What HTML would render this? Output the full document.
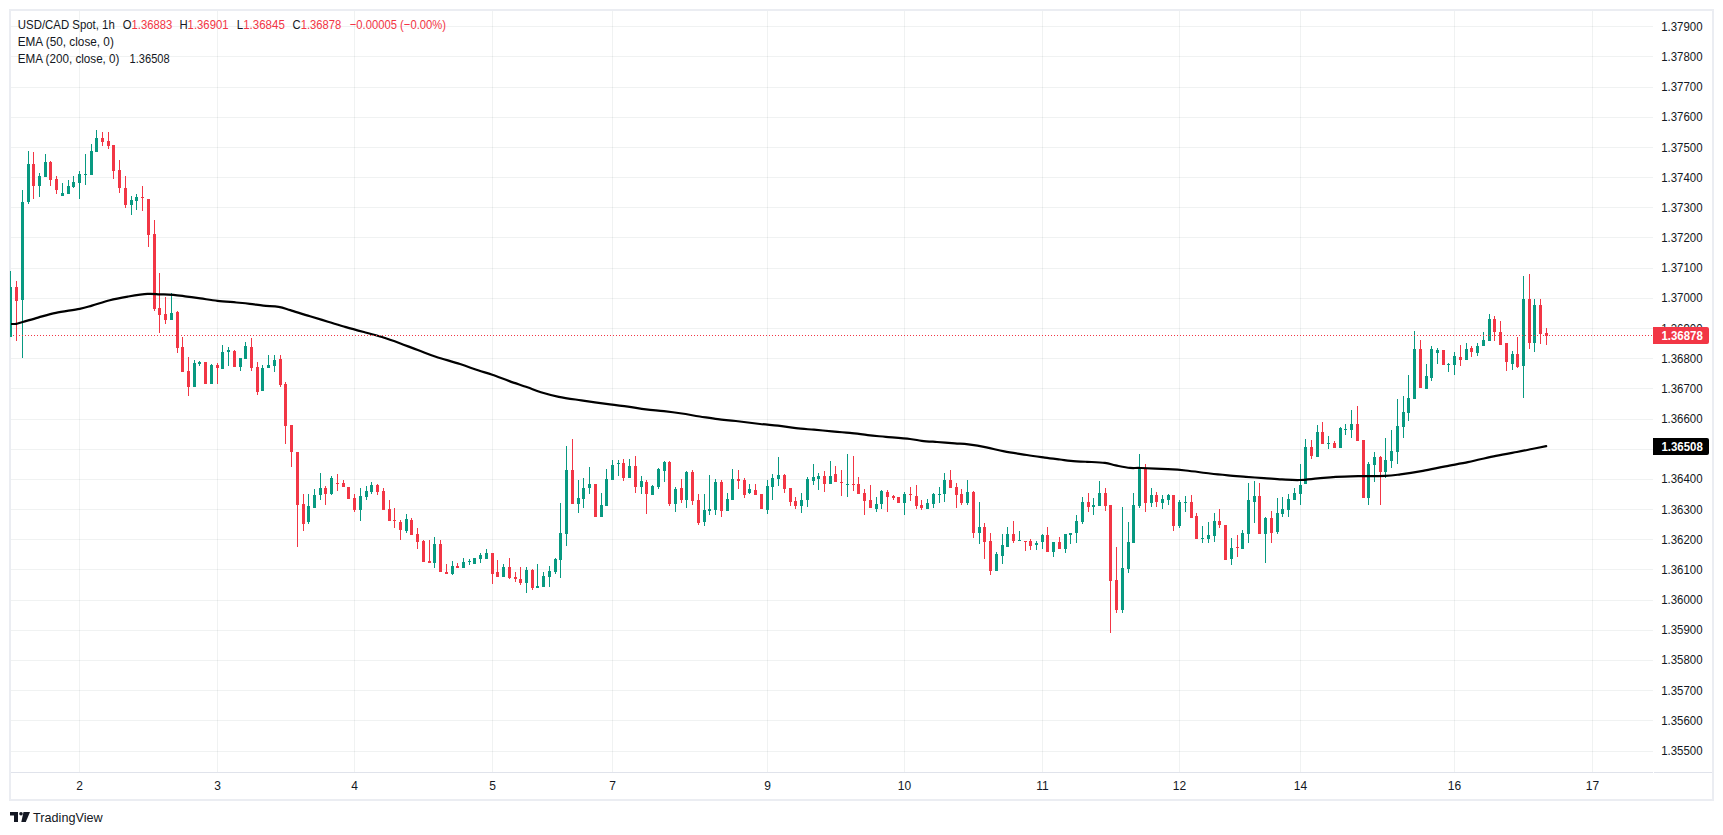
<!DOCTYPE html>
<html><head><meta charset="utf-8"><title>USD/CAD Spot 1h</title><style>
html,body{margin:0;padding:0;background:#fff;width:1723px;height:835px;overflow:hidden}
svg{position:absolute;left:0;top:0;display:block}
text{font-family:"Liberation Sans",sans-serif}
</style></head><body>
<svg width="1723" height="835" viewBox="0 0 1723 835">
<defs><clipPath id="pane"><rect x="11" y="11" width="1642" height="761"/></clipPath><clipPath id="pane2"><rect x="10" y="11" width="1643" height="761"/></clipPath></defs>
<g fill="rgba(30,60,55,0.065)" shape-rendering="crispEdges"><rect x="11" y="26" width="1642" height="1"/><rect x="11" y="56" width="1642" height="1"/><rect x="11" y="87" width="1642" height="1"/><rect x="11" y="117" width="1642" height="1"/><rect x="11" y="147" width="1642" height="1"/><rect x="11" y="177" width="1642" height="1"/><rect x="11" y="207" width="1642" height="1"/><rect x="11" y="237" width="1642" height="1"/><rect x="11" y="268" width="1642" height="1"/><rect x="11" y="298" width="1642" height="1"/><rect x="11" y="328" width="1642" height="1"/><rect x="11" y="358" width="1642" height="1"/><rect x="11" y="388" width="1642" height="1"/><rect x="11" y="419" width="1642" height="1"/><rect x="11" y="449" width="1642" height="1"/><rect x="11" y="479" width="1642" height="1"/><rect x="11" y="509" width="1642" height="1"/><rect x="11" y="539" width="1642" height="1"/><rect x="11" y="569" width="1642" height="1"/><rect x="11" y="600" width="1642" height="1"/><rect x="11" y="630" width="1642" height="1"/><rect x="11" y="660" width="1642" height="1"/><rect x="11" y="690" width="1642" height="1"/><rect x="11" y="720" width="1642" height="1"/><rect x="11" y="751" width="1642" height="1"/><rect x="79" y="11" width="1" height="761"/><rect x="217" y="11" width="1" height="761"/><rect x="354" y="11" width="1" height="761"/><rect x="492" y="11" width="1" height="761"/><rect x="612" y="11" width="1" height="761"/><rect x="767" y="11" width="1" height="761"/><rect x="904" y="11" width="1" height="761"/><rect x="1042" y="11" width="1" height="761"/><rect x="1179" y="11" width="1" height="761"/><rect x="1300" y="11" width="1" height="761"/><rect x="1454" y="11" width="1" height="761"/><rect x="1592" y="11" width="1" height="761"/></g>
<g fill="#ebedf2" shape-rendering="crispEdges"><rect x="9" y="9" width="1705" height="2"/><rect x="9" y="799" width="1705" height="2"/><rect x="9" y="9" width="2" height="792"/><rect x="1712" y="9" width="2" height="792"/></g><g fill="#e0e3eb" shape-rendering="crispEdges"><rect x="11" y="772" width="1642" height="1"/><rect x="1654" y="772" width="58" height="1"/></g>
<g clip-path="url(#pane2)" shape-rendering="crispEdges"><g fill="#089981"><rect x="10" y="271" width="1" height="66"/><rect x="9" y="287" width="3" height="50"/><rect x="22" y="190" width="1" height="168"/><rect x="21" y="202" width="3" height="98"/><rect x="28" y="151" width="1" height="53"/><rect x="27" y="164" width="3" height="38"/><rect x="39" y="173" width="1" height="24"/><rect x="38" y="176" width="3" height="10"/><rect x="45" y="154" width="1" height="23"/><rect x="44" y="162" width="3" height="15"/><rect x="62" y="183" width="1" height="13"/><rect x="61" y="193" width="3" height="3"/><rect x="68" y="180" width="1" height="14"/><rect x="67" y="186" width="3" height="8"/><rect x="73" y="176" width="1" height="12"/><rect x="72" y="182" width="3" height="5"/><rect x="79" y="171" width="1" height="28"/><rect x="78" y="174" width="3" height="9"/><rect x="85" y="154" width="1" height="31"/><rect x="84" y="174" width="3" height="1"/><rect x="91" y="144" width="1" height="31"/><rect x="90" y="151" width="3" height="24"/><rect x="96" y="130" width="1" height="22"/><rect x="95" y="138" width="3" height="14"/><rect x="131" y="196" width="1" height="19"/><rect x="130" y="200" width="3" height="5"/><rect x="136" y="194" width="1" height="16"/><rect x="135" y="197" width="3" height="4"/><rect x="171" y="293" width="1" height="27"/><rect x="170" y="313" width="3" height="7"/><rect x="194" y="360" width="1" height="27"/><rect x="193" y="363" width="3" height="24"/><rect x="199" y="361" width="1" height="5"/><rect x="198" y="362" width="3" height="2"/><rect x="211" y="364" width="1" height="20"/><rect x="210" y="365" width="3" height="19"/><rect x="222" y="345" width="1" height="24"/><rect x="221" y="352" width="3" height="17"/><rect x="228" y="347" width="1" height="19"/><rect x="227" y="350" width="3" height="2"/><rect x="240" y="358" width="1" height="13"/><rect x="239" y="358" width="3" height="9"/><rect x="245" y="342" width="1" height="17"/><rect x="244" y="346" width="3" height="13"/><rect x="262" y="365" width="1" height="26"/><rect x="261" y="368" width="3" height="23"/><rect x="268" y="355" width="1" height="13"/><rect x="267" y="365" width="3" height="3"/><rect x="274" y="355" width="1" height="17"/><rect x="273" y="360" width="3" height="6"/><rect x="308" y="494" width="1" height="30"/><rect x="307" y="506" width="3" height="16"/><rect x="314" y="489" width="1" height="19"/><rect x="313" y="495" width="3" height="13"/><rect x="320" y="473" width="1" height="27"/><rect x="319" y="488" width="3" height="7"/><rect x="331" y="476" width="1" height="19"/><rect x="330" y="478" width="3" height="16"/><rect x="360" y="488" width="1" height="33"/><rect x="359" y="496" width="3" height="14"/><rect x="366" y="486" width="1" height="14"/><rect x="365" y="491" width="3" height="6"/><rect x="371" y="482" width="1" height="12"/><rect x="370" y="485" width="3" height="7"/><rect x="406" y="514" width="1" height="19"/><rect x="405" y="519" width="3" height="12"/><rect x="434" y="537" width="1" height="31"/><rect x="433" y="544" width="3" height="19"/><rect x="452" y="561" width="1" height="14"/><rect x="451" y="566" width="3" height="8"/><rect x="463" y="558" width="1" height="10"/><rect x="462" y="562" width="3" height="6"/><rect x="469" y="559" width="1" height="6"/><rect x="468" y="561" width="3" height="1"/><rect x="474" y="558" width="1" height="6"/><rect x="473" y="558" width="3" height="6"/><rect x="480" y="553" width="1" height="10"/><rect x="479" y="555" width="3" height="4"/><rect x="486" y="549" width="1" height="10"/><rect x="485" y="553" width="3" height="6"/><rect x="503" y="564" width="1" height="13"/><rect x="502" y="567" width="3" height="10"/><rect x="526" y="567" width="1" height="26"/><rect x="525" y="570" width="3" height="13"/><rect x="537" y="564" width="1" height="24"/><rect x="536" y="586" width="3" height="2"/><rect x="543" y="572" width="1" height="15"/><rect x="542" y="576" width="3" height="11"/><rect x="549" y="566" width="1" height="21"/><rect x="548" y="571" width="3" height="6"/><rect x="555" y="558" width="1" height="16"/><rect x="554" y="559" width="3" height="13"/><rect x="560" y="503" width="1" height="75"/><rect x="559" y="533" width="3" height="27"/><rect x="566" y="446" width="1" height="100"/><rect x="565" y="470" width="3" height="64"/><rect x="578" y="480" width="1" height="33"/><rect x="577" y="498" width="3" height="6"/><rect x="583" y="478" width="1" height="30"/><rect x="582" y="488" width="3" height="11"/><rect x="589" y="467" width="1" height="27"/><rect x="588" y="484" width="3" height="4"/><rect x="601" y="493" width="1" height="24"/><rect x="600" y="505" width="3" height="12"/><rect x="606" y="469" width="1" height="37"/><rect x="605" y="479" width="3" height="27"/><rect x="612" y="460" width="1" height="20"/><rect x="611" y="465" width="3" height="15"/><rect x="618" y="460" width="1" height="16"/><rect x="617" y="463" width="3" height="1"/><rect x="629" y="459" width="1" height="19"/><rect x="628" y="466" width="3" height="12"/><rect x="641" y="476" width="1" height="18"/><rect x="640" y="481" width="3" height="6"/><rect x="652" y="485" width="1" height="10"/><rect x="651" y="486" width="3" height="9"/><rect x="658" y="468" width="1" height="21"/><rect x="657" y="469" width="3" height="18"/><rect x="664" y="461" width="1" height="21"/><rect x="663" y="462" width="3" height="9"/><rect x="675" y="487" width="1" height="25"/><rect x="674" y="489" width="3" height="15"/><rect x="686" y="471" width="1" height="37"/><rect x="685" y="472" width="3" height="28"/><rect x="704" y="494" width="1" height="32"/><rect x="703" y="510" width="3" height="12"/><rect x="709" y="475" width="1" height="40"/><rect x="708" y="509" width="3" height="2"/><rect x="715" y="479" width="1" height="36"/><rect x="714" y="482" width="3" height="28"/><rect x="727" y="493" width="1" height="18"/><rect x="726" y="499" width="3" height="12"/><rect x="732" y="469" width="1" height="31"/><rect x="731" y="479" width="3" height="21"/><rect x="749" y="484" width="1" height="10"/><rect x="748" y="489" width="3" height="4"/><rect x="767" y="480" width="1" height="34"/><rect x="766" y="486" width="3" height="24"/><rect x="772" y="474" width="1" height="26"/><rect x="771" y="478" width="3" height="9"/><rect x="778" y="457" width="1" height="29"/><rect x="777" y="475" width="3" height="4"/><rect x="801" y="493" width="1" height="20"/><rect x="800" y="500" width="3" height="6"/><rect x="807" y="477" width="1" height="30"/><rect x="806" y="479" width="3" height="21"/><rect x="813" y="464" width="1" height="21"/><rect x="812" y="477" width="3" height="4"/><rect x="818" y="473" width="1" height="17"/><rect x="817" y="476" width="3" height="3"/><rect x="830" y="461" width="1" height="23"/><rect x="829" y="476" width="3" height="8"/><rect x="847" y="454" width="1" height="43"/><rect x="846" y="484" width="3" height="1"/><rect x="876" y="497" width="1" height="15"/><rect x="875" y="504" width="3" height="5"/><rect x="881" y="490" width="1" height="19"/><rect x="880" y="491" width="3" height="13"/><rect x="904" y="492" width="1" height="23"/><rect x="903" y="494" width="3" height="9"/><rect x="927" y="499" width="1" height="10"/><rect x="926" y="503" width="3" height="6"/><rect x="933" y="493" width="1" height="15"/><rect x="932" y="494" width="3" height="10"/><rect x="939" y="487" width="1" height="16"/><rect x="938" y="494" width="3" height="1"/><rect x="944" y="473" width="1" height="29"/><rect x="943" y="480" width="3" height="14"/><rect x="967" y="480" width="1" height="25"/><rect x="966" y="492" width="3" height="11"/><rect x="979" y="502" width="1" height="42"/><rect x="978" y="527" width="3" height="6"/><rect x="996" y="552" width="1" height="19"/><rect x="995" y="554" width="3" height="17"/><rect x="1002" y="534" width="1" height="30"/><rect x="1001" y="545" width="3" height="11"/><rect x="1007" y="527" width="1" height="20"/><rect x="1006" y="534" width="3" height="13"/><rect x="1019" y="531" width="1" height="10"/><rect x="1018" y="540" width="3" height="1"/><rect x="1036" y="541" width="1" height="9"/><rect x="1035" y="543" width="3" height="2"/><rect x="1042" y="534" width="1" height="15"/><rect x="1041" y="535" width="3" height="7"/><rect x="1053" y="542" width="1" height="15"/><rect x="1052" y="542" width="3" height="10"/><rect x="1065" y="534" width="1" height="19"/><rect x="1064" y="534" width="3" height="15"/><rect x="1070" y="533" width="1" height="11"/><rect x="1069" y="533" width="3" height="2"/><rect x="1076" y="515" width="1" height="28"/><rect x="1075" y="521" width="3" height="12"/><rect x="1082" y="497" width="1" height="27"/><rect x="1081" y="502" width="3" height="20"/><rect x="1093" y="498" width="1" height="17"/><rect x="1092" y="505" width="3" height="2"/><rect x="1099" y="481" width="1" height="25"/><rect x="1098" y="493" width="3" height="13"/><rect x="1122" y="507" width="1" height="106"/><rect x="1121" y="568" width="3" height="42"/><rect x="1128" y="522" width="1" height="51"/><rect x="1127" y="542" width="3" height="27"/><rect x="1133" y="493" width="1" height="50"/><rect x="1132" y="505" width="3" height="38"/><rect x="1139" y="454" width="1" height="54"/><rect x="1138" y="469" width="3" height="37"/><rect x="1151" y="488" width="1" height="19"/><rect x="1150" y="495" width="3" height="8"/><rect x="1162" y="495" width="1" height="14"/><rect x="1161" y="499" width="3" height="4"/><rect x="1168" y="494" width="1" height="11"/><rect x="1167" y="495" width="3" height="5"/><rect x="1179" y="500" width="1" height="28"/><rect x="1178" y="502" width="3" height="24"/><rect x="1185" y="496" width="1" height="16"/><rect x="1184" y="502" width="3" height="1"/><rect x="1202" y="526" width="1" height="17"/><rect x="1201" y="538" width="3" height="1"/><rect x="1208" y="522" width="1" height="21"/><rect x="1207" y="535" width="3" height="4"/><rect x="1214" y="513" width="1" height="29"/><rect x="1213" y="521" width="3" height="15"/><rect x="1231" y="538" width="1" height="27"/><rect x="1230" y="548" width="3" height="11"/><rect x="1242" y="530" width="1" height="19"/><rect x="1241" y="533" width="3" height="16"/><rect x="1248" y="483" width="1" height="60"/><rect x="1247" y="500" width="3" height="34"/><rect x="1254" y="481" width="1" height="42"/><rect x="1253" y="496" width="3" height="6"/><rect x="1265" y="517" width="1" height="46"/><rect x="1264" y="518" width="3" height="16"/><rect x="1277" y="498" width="1" height="36"/><rect x="1276" y="513" width="3" height="19"/><rect x="1282" y="497" width="1" height="20"/><rect x="1281" y="509" width="3" height="5"/><rect x="1288" y="494" width="1" height="23"/><rect x="1287" y="499" width="3" height="11"/><rect x="1294" y="488" width="1" height="12"/><rect x="1293" y="493" width="3" height="7"/><rect x="1300" y="464" width="1" height="41"/><rect x="1299" y="485" width="3" height="9"/><rect x="1305" y="439" width="1" height="45"/><rect x="1304" y="447" width="3" height="37"/><rect x="1317" y="425" width="1" height="32"/><rect x="1316" y="432" width="3" height="25"/><rect x="1328" y="436" width="1" height="13"/><rect x="1327" y="443" width="3" height="1"/><rect x="1340" y="427" width="1" height="21"/><rect x="1339" y="428" width="3" height="20"/><rect x="1345" y="424" width="1" height="11"/><rect x="1344" y="429" width="3" height="1"/><rect x="1351" y="410" width="1" height="28"/><rect x="1350" y="424" width="3" height="6"/><rect x="1368" y="462" width="1" height="43"/><rect x="1367" y="464" width="3" height="34"/><rect x="1374" y="452" width="1" height="30"/><rect x="1373" y="457" width="3" height="8"/><rect x="1385" y="438" width="1" height="40"/><rect x="1384" y="460" width="3" height="12"/><rect x="1391" y="430" width="1" height="38"/><rect x="1390" y="451" width="3" height="10"/><rect x="1397" y="399" width="1" height="65"/><rect x="1396" y="426" width="3" height="26"/><rect x="1403" y="396" width="1" height="42"/><rect x="1402" y="412" width="3" height="15"/><rect x="1408" y="375" width="1" height="46"/><rect x="1407" y="398" width="3" height="15"/><rect x="1414" y="331" width="1" height="68"/><rect x="1413" y="349" width="3" height="50"/><rect x="1426" y="364" width="1" height="25"/><rect x="1425" y="376" width="3" height="13"/><rect x="1431" y="346" width="1" height="35"/><rect x="1430" y="349" width="3" height="29"/><rect x="1437" y="348" width="1" height="16"/><rect x="1436" y="350" width="3" height="3"/><rect x="1448" y="363" width="1" height="9"/><rect x="1447" y="364" width="3" height="1"/><rect x="1454" y="352" width="1" height="23"/><rect x="1453" y="356" width="3" height="9"/><rect x="1466" y="343" width="1" height="17"/><rect x="1465" y="349" width="3" height="11"/><rect x="1477" y="343" width="1" height="13"/><rect x="1476" y="346" width="3" height="7"/><rect x="1483" y="332" width="1" height="14"/><rect x="1482" y="340" width="3" height="6"/><rect x="1489" y="314" width="1" height="27"/><rect x="1488" y="319" width="3" height="22"/><rect x="1512" y="351" width="1" height="19"/><rect x="1511" y="354" width="3" height="10"/><rect x="1523" y="276" width="1" height="122"/><rect x="1522" y="299" width="3" height="67"/><rect x="1534" y="299" width="1" height="53"/><rect x="1533" y="305" width="3" height="38"/></g><g fill="#f23645"><rect x="16" y="281" width="1" height="60"/><rect x="15" y="287" width="3" height="14"/><rect x="33" y="152" width="1" height="47"/><rect x="32" y="164" width="3" height="22"/><rect x="50" y="161" width="1" height="25"/><rect x="49" y="162" width="3" height="18"/><rect x="56" y="176" width="1" height="18"/><rect x="55" y="179" width="3" height="11"/><rect x="102" y="132" width="1" height="14"/><rect x="101" y="138" width="3" height="4"/><rect x="108" y="132" width="1" height="17"/><rect x="107" y="141" width="3" height="5"/><rect x="113" y="145" width="1" height="34"/><rect x="112" y="145" width="3" height="26"/><rect x="119" y="160" width="1" height="33"/><rect x="118" y="170" width="3" height="18"/><rect x="125" y="176" width="1" height="32"/><rect x="124" y="188" width="3" height="17"/><rect x="142" y="186" width="1" height="25"/><rect x="141" y="197" width="3" height="1"/><rect x="148" y="199" width="1" height="48"/><rect x="147" y="199" width="3" height="36"/><rect x="154" y="220" width="1" height="91"/><rect x="153" y="234" width="3" height="75"/><rect x="159" y="273" width="1" height="60"/><rect x="158" y="308" width="3" height="7"/><rect x="165" y="297" width="1" height="27"/><rect x="164" y="314" width="3" height="6"/><rect x="177" y="311" width="1" height="42"/><rect x="176" y="312" width="3" height="36"/><rect x="182" y="337" width="1" height="35"/><rect x="181" y="347" width="3" height="25"/><rect x="188" y="357" width="1" height="39"/><rect x="187" y="371" width="3" height="16"/><rect x="205" y="362" width="1" height="22"/><rect x="204" y="362" width="3" height="22"/><rect x="217" y="363" width="1" height="21"/><rect x="216" y="365" width="3" height="3"/><rect x="234" y="350" width="1" height="17"/><rect x="233" y="351" width="3" height="16"/><rect x="251" y="338" width="1" height="33"/><rect x="250" y="347" width="3" height="21"/><rect x="257" y="362" width="1" height="33"/><rect x="256" y="367" width="3" height="25"/><rect x="280" y="355" width="1" height="32"/><rect x="279" y="359" width="3" height="26"/><rect x="285" y="382" width="1" height="62"/><rect x="284" y="384" width="3" height="42"/><rect x="291" y="425" width="1" height="42"/><rect x="290" y="425" width="3" height="27"/><rect x="297" y="452" width="1" height="95"/><rect x="296" y="452" width="3" height="53"/><rect x="303" y="494" width="1" height="37"/><rect x="302" y="504" width="3" height="20"/><rect x="325" y="486" width="1" height="19"/><rect x="324" y="488" width="3" height="6"/><rect x="337" y="474" width="1" height="17"/><rect x="336" y="483" width="3" height="1"/><rect x="343" y="480" width="1" height="7"/><rect x="342" y="483" width="3" height="4"/><rect x="348" y="487" width="1" height="12"/><rect x="347" y="487" width="3" height="12"/><rect x="354" y="494" width="1" height="18"/><rect x="353" y="498" width="3" height="12"/><rect x="377" y="484" width="1" height="11"/><rect x="376" y="485" width="3" height="7"/><rect x="383" y="488" width="1" height="22"/><rect x="382" y="491" width="3" height="19"/><rect x="389" y="500" width="1" height="21"/><rect x="388" y="509" width="3" height="12"/><rect x="394" y="508" width="1" height="20"/><rect x="393" y="520" width="3" height="1"/><rect x="400" y="520" width="1" height="20"/><rect x="399" y="522" width="3" height="8"/><rect x="411" y="518" width="1" height="17"/><rect x="410" y="520" width="3" height="15"/><rect x="417" y="528" width="1" height="21"/><rect x="416" y="534" width="3" height="8"/><rect x="423" y="540" width="1" height="22"/><rect x="422" y="541" width="3" height="21"/><rect x="429" y="540" width="1" height="23"/><rect x="428" y="561" width="3" height="2"/><rect x="440" y="540" width="1" height="32"/><rect x="439" y="544" width="3" height="28"/><rect x="446" y="564" width="1" height="10"/><rect x="445" y="572" width="3" height="2"/><rect x="457" y="563" width="1" height="5"/><rect x="456" y="566" width="3" height="2"/><rect x="492" y="553" width="1" height="31"/><rect x="491" y="553" width="3" height="21"/><rect x="497" y="560" width="1" height="17"/><rect x="496" y="572" width="3" height="5"/><rect x="509" y="558" width="1" height="21"/><rect x="508" y="567" width="3" height="11"/><rect x="515" y="572" width="1" height="10"/><rect x="514" y="577" width="3" height="2"/><rect x="520" y="567" width="1" height="18"/><rect x="519" y="579" width="3" height="4"/><rect x="532" y="569" width="1" height="21"/><rect x="531" y="570" width="3" height="18"/><rect x="572" y="439" width="1" height="65"/><rect x="571" y="470" width="3" height="34"/><rect x="595" y="484" width="1" height="33"/><rect x="594" y="484" width="3" height="33"/><rect x="623" y="459" width="1" height="22"/><rect x="622" y="463" width="3" height="15"/><rect x="635" y="456" width="1" height="37"/><rect x="634" y="466" width="3" height="21"/><rect x="646" y="480" width="1" height="34"/><rect x="645" y="482" width="3" height="12"/><rect x="669" y="461" width="1" height="45"/><rect x="668" y="462" width="3" height="42"/><rect x="681" y="479" width="1" height="24"/><rect x="680" y="488" width="3" height="12"/><rect x="692" y="470" width="1" height="35"/><rect x="691" y="472" width="3" height="29"/><rect x="698" y="494" width="1" height="31"/><rect x="697" y="500" width="3" height="23"/><rect x="721" y="480" width="1" height="37"/><rect x="720" y="482" width="3" height="29"/><rect x="738" y="470" width="1" height="19"/><rect x="737" y="479" width="3" height="2"/><rect x="744" y="478" width="1" height="20"/><rect x="743" y="480" width="3" height="15"/><rect x="755" y="484" width="1" height="11"/><rect x="754" y="490" width="3" height="5"/><rect x="761" y="494" width="1" height="15"/><rect x="760" y="494" width="3" height="15"/><rect x="784" y="474" width="1" height="19"/><rect x="783" y="475" width="3" height="14"/><rect x="790" y="488" width="1" height="18"/><rect x="789" y="488" width="3" height="14"/><rect x="795" y="497" width="1" height="12"/><rect x="794" y="501" width="3" height="5"/><rect x="824" y="471" width="1" height="21"/><rect x="823" y="476" width="3" height="8"/><rect x="835" y="466" width="1" height="16"/><rect x="834" y="474" width="3" height="8"/><rect x="841" y="470" width="1" height="26"/><rect x="840" y="482" width="3" height="1"/><rect x="853" y="456" width="1" height="35"/><rect x="852" y="484" width="3" height="1"/><rect x="858" y="477" width="1" height="17"/><rect x="857" y="484" width="3" height="10"/><rect x="864" y="489" width="1" height="26"/><rect x="863" y="493" width="3" height="8"/><rect x="870" y="485" width="1" height="23"/><rect x="869" y="500" width="3" height="8"/><rect x="887" y="490" width="1" height="22"/><rect x="886" y="492" width="3" height="5"/><rect x="893" y="495" width="1" height="5"/><rect x="892" y="496" width="3" height="2"/><rect x="898" y="497" width="1" height="6"/><rect x="897" y="497" width="3" height="6"/><rect x="910" y="487" width="1" height="14"/><rect x="909" y="494" width="3" height="1"/><rect x="916" y="485" width="1" height="24"/><rect x="915" y="496" width="3" height="10"/><rect x="921" y="500" width="1" height="10"/><rect x="920" y="505" width="3" height="3"/><rect x="950" y="470" width="1" height="18"/><rect x="949" y="480" width="3" height="8"/><rect x="956" y="483" width="1" height="25"/><rect x="955" y="487" width="3" height="8"/><rect x="961" y="489" width="1" height="16"/><rect x="960" y="494" width="3" height="9"/><rect x="973" y="491" width="1" height="47"/><rect x="972" y="492" width="3" height="41"/><rect x="984" y="523" width="1" height="36"/><rect x="983" y="527" width="3" height="15"/><rect x="990" y="533" width="1" height="42"/><rect x="989" y="541" width="3" height="30"/><rect x="1013" y="521" width="1" height="22"/><rect x="1012" y="534" width="3" height="7"/><rect x="1025" y="541" width="1" height="10"/><rect x="1024" y="541" width="3" height="1"/><rect x="1030" y="539" width="1" height="11"/><rect x="1029" y="541" width="3" height="5"/><rect x="1047" y="527" width="1" height="25"/><rect x="1046" y="535" width="3" height="17"/><rect x="1059" y="537" width="1" height="12"/><rect x="1058" y="542" width="3" height="7"/><rect x="1088" y="493" width="1" height="19"/><rect x="1087" y="502" width="3" height="5"/><rect x="1105" y="488" width="1" height="23"/><rect x="1104" y="493" width="3" height="13"/><rect x="1110" y="505" width="1" height="128"/><rect x="1109" y="505" width="3" height="76"/><rect x="1116" y="547" width="1" height="66"/><rect x="1115" y="580" width="3" height="30"/><rect x="1145" y="464" width="1" height="48"/><rect x="1144" y="469" width="3" height="34"/><rect x="1156" y="492" width="1" height="15"/><rect x="1155" y="495" width="3" height="7"/><rect x="1173" y="495" width="1" height="36"/><rect x="1172" y="495" width="3" height="31"/><rect x="1191" y="495" width="1" height="23"/><rect x="1190" y="502" width="3" height="16"/><rect x="1196" y="513" width="1" height="26"/><rect x="1195" y="516" width="3" height="23"/><rect x="1219" y="509" width="1" height="19"/><rect x="1218" y="521" width="3" height="4"/><rect x="1225" y="525" width="1" height="35"/><rect x="1224" y="525" width="3" height="35"/><rect x="1237" y="535" width="1" height="22"/><rect x="1236" y="547" width="3" height="1"/><rect x="1259" y="483" width="1" height="51"/><rect x="1258" y="496" width="3" height="38"/><rect x="1271" y="511" width="1" height="32"/><rect x="1270" y="518" width="3" height="15"/><rect x="1311" y="440" width="1" height="19"/><rect x="1310" y="447" width="3" height="9"/><rect x="1322" y="422" width="1" height="22"/><rect x="1321" y="432" width="3" height="12"/><rect x="1334" y="441" width="1" height="7"/><rect x="1333" y="443" width="3" height="5"/><rect x="1357" y="406" width="1" height="35"/><rect x="1356" y="424" width="3" height="17"/><rect x="1363" y="440" width="1" height="58"/><rect x="1362" y="440" width="3" height="58"/><rect x="1380" y="456" width="1" height="49"/><rect x="1379" y="457" width="3" height="15"/><rect x="1420" y="340" width="1" height="48"/><rect x="1419" y="349" width="3" height="39"/><rect x="1443" y="350" width="1" height="15"/><rect x="1442" y="350" width="3" height="15"/><rect x="1460" y="345" width="1" height="21"/><rect x="1459" y="357" width="3" height="3"/><rect x="1471" y="346" width="1" height="11"/><rect x="1470" y="348" width="3" height="4"/><rect x="1494" y="316" width="1" height="25"/><rect x="1493" y="319" width="3" height="13"/><rect x="1500" y="321" width="1" height="24"/><rect x="1499" y="332" width="3" height="13"/><rect x="1506" y="343" width="1" height="28"/><rect x="1505" y="343" width="3" height="19"/><rect x="1517" y="337" width="1" height="31"/><rect x="1516" y="354" width="3" height="13"/><rect x="1529" y="274" width="1" height="75"/><rect x="1528" y="299" width="3" height="44"/><rect x="1540" y="299" width="1" height="45"/><rect x="1539" y="305" width="3" height="29"/><rect x="1546" y="328" width="1" height="17"/><rect x="1545" y="333" width="3" height="3"/></g></g>
<path clip-path="url(#pane)" d="M11.0 324.0 C11.9 324.0 14.4 324.1 16.4 323.8 C18.3 323.5 19.1 323.0 22.7 322.0 C26.3 321.0 32.5 319.1 38.0 317.6 C43.5 316.1 48.9 314.2 55.9 312.8 C62.9 311.4 73.7 310.1 79.7 308.9 C85.7 307.7 86.9 307.1 91.9 305.6 C96.9 304.2 103.8 301.7 109.8 300.2 C115.8 298.7 121.5 297.7 127.8 296.6 C134.1 295.6 142.2 294.3 147.6 293.9 C153.0 293.5 155.7 294.2 160.0 294.4 C164.3 294.5 169.0 294.4 173.5 294.8 C178.0 295.2 182.5 296.0 187.0 296.6 C191.5 297.2 195.3 297.7 200.4 298.4 C205.5 299.1 211.5 300.1 217.5 300.8 C223.5 301.5 231.0 302.0 236.4 302.5 C241.8 303.0 245.3 303.3 249.8 303.8 C254.3 304.3 258.5 305.1 263.3 305.6 C268.1 306.1 274.1 306.1 278.6 306.8 C283.1 307.6 285.1 308.5 290.3 310.1 C295.5 311.7 303.7 314.4 310.0 316.3 C316.3 318.2 322.0 319.9 328.0 321.7 C334.0 323.5 339.9 325.4 345.9 327.1 C351.9 328.8 357.9 330.4 363.9 332.0 C369.9 333.6 375.9 335.1 381.9 337.0 C387.9 338.9 393.8 341.0 399.8 343.2 C405.8 345.4 411.8 347.8 417.8 350.0 C423.8 352.2 428.8 354.4 435.8 356.7 C442.8 359.0 453.0 361.7 460.0 364.0 C467.0 366.3 472.6 368.5 478.0 370.3 C483.4 372.1 487.1 373.0 492.3 374.8 C497.5 376.6 503.5 379.0 509.4 381.1 C515.2 383.2 522.1 385.4 527.4 387.3 C532.6 389.2 535.7 390.7 540.9 392.3 C546.1 393.9 552.1 395.5 558.8 396.8 C565.5 398.1 572.8 399.1 581.3 400.4 C589.8 401.7 602.2 403.4 610.0 404.4 C617.8 405.4 622.0 405.8 628.0 406.6 C634.0 407.4 639.9 408.6 645.9 409.3 C651.9 410.1 657.9 410.4 663.9 411.1 C669.9 411.8 675.9 412.6 681.9 413.5 C687.9 414.4 693.8 415.6 699.8 416.5 C705.8 417.4 711.8 418.4 717.8 419.2 C723.8 419.9 728.8 420.2 735.8 421.0 C742.8 421.8 753.0 423.2 760.0 424.0 C767.0 424.8 772.0 425.0 778.0 425.7 C784.0 426.4 789.9 427.5 795.9 428.2 C801.9 428.9 807.9 429.2 813.9 429.7 C819.9 430.2 825.9 430.8 831.9 431.3 C837.9 431.8 843.8 432.3 849.8 432.9 C855.8 433.5 861.8 434.4 867.8 435.1 C873.8 435.8 878.8 436.2 885.8 436.9 C892.8 437.5 904.0 438.4 910.0 439.0 C916.0 439.6 917.2 440.3 921.7 440.8 C926.2 441.3 931.5 441.6 937.0 442.0 C942.5 442.4 949.7 443.0 954.9 443.4 C960.1 443.8 963.1 443.7 968.4 444.4 C973.6 445.1 980.4 446.2 986.4 447.4 C992.4 448.6 997.6 450.1 1004.3 451.4 C1011.0 452.7 1020.0 453.9 1026.8 455.0 C1033.5 456.1 1039.3 456.9 1044.8 457.7 C1050.3 458.4 1055.7 459.0 1060.0 459.5 C1064.3 460.0 1066.3 460.4 1070.8 460.8 C1075.3 461.2 1081.3 461.5 1087.0 461.8 C1092.7 462.1 1100.1 462.3 1104.9 462.9 C1109.7 463.5 1111.5 464.6 1115.7 465.4 C1119.9 466.2 1125.9 467.5 1130.1 467.9 C1134.3 468.3 1134.6 467.8 1140.9 468.0 C1147.2 468.2 1160.3 468.8 1167.8 469.2 C1175.3 469.6 1178.8 469.8 1185.8 470.5 C1192.8 471.2 1203.0 472.7 1210.0 473.5 C1217.0 474.3 1222.0 474.8 1228.0 475.4 C1234.0 476.0 1239.9 476.4 1245.9 476.9 C1251.9 477.3 1257.9 477.7 1263.9 478.1 C1269.9 478.5 1275.9 479.1 1281.9 479.4 C1287.9 479.7 1293.8 480.2 1299.8 480.0 C1305.8 479.8 1311.8 478.9 1317.8 478.4 C1323.8 477.9 1328.8 477.3 1335.8 476.9 C1342.8 476.5 1351.8 476.3 1360.0 476.1 C1368.2 475.9 1378.5 476.2 1385.2 475.9 C1391.9 475.6 1394.1 475.2 1400.4 474.4 C1406.7 473.5 1415.4 472.1 1422.9 470.8 C1430.4 469.5 1437.9 467.7 1445.4 466.3 C1452.9 464.9 1462.4 463.3 1467.8 462.2 C1473.2 461.1 1473.3 460.9 1478.0 459.8 C1482.7 458.8 1489.4 457.2 1495.9 455.9 C1502.4 454.6 1510.9 453.1 1516.9 452.0 C1522.9 450.9 1527.0 450.0 1531.9 449.0 C1536.8 448.0 1543.8 446.7 1546.2 446.2" fill="none" stroke="#000" stroke-width="2.2" stroke-linejoin="round" stroke-linecap="round"/>
<path d="M13 335h1M16 335h1M19 335h1M22 335h1M25 335h1M28 335h1M31 335h1M34 335h1M37 335h1M40 335h1M43 335h1M46 335h1M49 335h1M52 335h1M55 335h1M58 335h1M61 335h1M64 335h1M67 335h1M70 335h1M73 335h1M76 335h1M79 335h1M82 335h1M85 335h1M88 335h1M91 335h1M94 335h1M97 335h1M100 335h1M103 335h1M106 335h1M109 335h1M112 335h1M115 335h1M118 335h1M121 335h1M124 335h1M127 335h1M130 335h1M133 335h1M136 335h1M139 335h1M142 335h1M145 335h1M148 335h1M151 335h1M154 335h1M157 335h1M160 335h1M163 335h1M166 335h1M169 335h1M172 335h1M175 335h1M178 335h1M181 335h1M184 335h1M187 335h1M190 335h1M193 335h1M196 335h1M199 335h1M202 335h1M205 335h1M208 335h1M211 335h1M214 335h1M217 335h1M220 335h1M223 335h1M226 335h1M229 335h1M232 335h1M235 335h1M238 335h1M241 335h1M244 335h1M247 335h1M250 335h1M253 335h1M256 335h1M259 335h1M262 335h1M265 335h1M268 335h1M271 335h1M274 335h1M277 335h1M280 335h1M283 335h1M286 335h1M289 335h1M292 335h1M295 335h1M298 335h1M301 335h1M304 335h1M307 335h1M310 335h1M313 335h1M316 335h1M319 335h1M322 335h1M325 335h1M328 335h1M331 335h1M334 335h1M337 335h1M340 335h1M343 335h1M346 335h1M349 335h1M352 335h1M355 335h1M358 335h1M361 335h1M364 335h1M367 335h1M370 335h1M373 335h1M376 335h1M379 335h1M382 335h1M385 335h1M388 335h1M391 335h1M394 335h1M397 335h1M400 335h1M403 335h1M406 335h1M409 335h1M412 335h1M415 335h1M418 335h1M421 335h1M424 335h1M427 335h1M430 335h1M433 335h1M436 335h1M439 335h1M442 335h1M445 335h1M448 335h1M451 335h1M454 335h1M457 335h1M460 335h1M463 335h1M466 335h1M469 335h1M472 335h1M475 335h1M478 335h1M481 335h1M484 335h1M487 335h1M490 335h1M493 335h1M496 335h1M499 335h1M502 335h1M505 335h1M508 335h1M511 335h1M514 335h1M517 335h1M520 335h1M523 335h1M526 335h1M529 335h1M532 335h1M535 335h1M538 335h1M541 335h1M544 335h1M547 335h1M550 335h1M553 335h1M556 335h1M559 335h1M562 335h1M565 335h1M568 335h1M571 335h1M574 335h1M577 335h1M580 335h1M583 335h1M586 335h1M589 335h1M592 335h1M595 335h1M598 335h1M601 335h1M604 335h1M607 335h1M610 335h1M613 335h1M616 335h1M619 335h1M622 335h1M625 335h1M628 335h1M631 335h1M634 335h1M637 335h1M640 335h1M643 335h1M646 335h1M649 335h1M652 335h1M655 335h1M658 335h1M661 335h1M664 335h1M667 335h1M670 335h1M673 335h1M676 335h1M679 335h1M682 335h1M685 335h1M688 335h1M691 335h1M694 335h1M697 335h1M700 335h1M703 335h1M706 335h1M709 335h1M712 335h1M715 335h1M718 335h1M721 335h1M724 335h1M727 335h1M730 335h1M733 335h1M736 335h1M739 335h1M742 335h1M745 335h1M748 335h1M751 335h1M754 335h1M757 335h1M760 335h1M763 335h1M766 335h1M769 335h1M772 335h1M775 335h1M778 335h1M781 335h1M784 335h1M787 335h1M790 335h1M793 335h1M796 335h1M799 335h1M802 335h1M805 335h1M808 335h1M811 335h1M814 335h1M817 335h1M820 335h1M823 335h1M826 335h1M829 335h1M832 335h1M835 335h1M838 335h1M841 335h1M844 335h1M847 335h1M850 335h1M853 335h1M856 335h1M859 335h1M862 335h1M865 335h1M868 335h1M871 335h1M874 335h1M877 335h1M880 335h1M883 335h1M886 335h1M889 335h1M892 335h1M895 335h1M898 335h1M901 335h1M904 335h1M907 335h1M910 335h1M913 335h1M916 335h1M919 335h1M922 335h1M925 335h1M928 335h1M931 335h1M934 335h1M937 335h1M940 335h1M943 335h1M946 335h1M949 335h1M952 335h1M955 335h1M958 335h1M961 335h1M964 335h1M967 335h1M970 335h1M973 335h1M976 335h1M979 335h1M982 335h1M985 335h1M988 335h1M991 335h1M994 335h1M997 335h1M1000 335h1M1003 335h1M1006 335h1M1009 335h1M1012 335h1M1015 335h1M1018 335h1M1021 335h1M1024 335h1M1027 335h1M1030 335h1M1033 335h1M1036 335h1M1039 335h1M1042 335h1M1045 335h1M1048 335h1M1051 335h1M1054 335h1M1057 335h1M1060 335h1M1063 335h1M1066 335h1M1069 335h1M1072 335h1M1075 335h1M1078 335h1M1081 335h1M1084 335h1M1087 335h1M1090 335h1M1093 335h1M1096 335h1M1099 335h1M1102 335h1M1105 335h1M1108 335h1M1111 335h1M1114 335h1M1117 335h1M1120 335h1M1123 335h1M1126 335h1M1129 335h1M1132 335h1M1135 335h1M1138 335h1M1141 335h1M1144 335h1M1147 335h1M1150 335h1M1153 335h1M1156 335h1M1159 335h1M1162 335h1M1165 335h1M1168 335h1M1171 335h1M1174 335h1M1177 335h1M1180 335h1M1183 335h1M1186 335h1M1189 335h1M1192 335h1M1195 335h1M1198 335h1M1201 335h1M1204 335h1M1207 335h1M1210 335h1M1213 335h1M1216 335h1M1219 335h1M1222 335h1M1225 335h1M1228 335h1M1231 335h1M1234 335h1M1237 335h1M1240 335h1M1243 335h1M1246 335h1M1249 335h1M1252 335h1M1255 335h1M1258 335h1M1261 335h1M1264 335h1M1267 335h1M1270 335h1M1273 335h1M1276 335h1M1279 335h1M1282 335h1M1285 335h1M1288 335h1M1291 335h1M1294 335h1M1297 335h1M1300 335h1M1303 335h1M1306 335h1M1309 335h1M1312 335h1M1315 335h1M1318 335h1M1321 335h1M1324 335h1M1327 335h1M1330 335h1M1333 335h1M1336 335h1M1339 335h1M1342 335h1M1345 335h1M1348 335h1M1351 335h1M1354 335h1M1357 335h1M1360 335h1M1363 335h1M1366 335h1M1369 335h1M1372 335h1M1375 335h1M1378 335h1M1381 335h1M1384 335h1M1387 335h1M1390 335h1M1393 335h1M1396 335h1M1399 335h1M1402 335h1M1405 335h1M1408 335h1M1411 335h1M1414 335h1M1417 335h1M1420 335h1M1423 335h1M1426 335h1M1429 335h1M1432 335h1M1435 335h1M1438 335h1M1441 335h1M1444 335h1M1447 335h1M1450 335h1M1453 335h1M1456 335h1M1459 335h1M1462 335h1M1465 335h1M1468 335h1M1471 335h1M1474 335h1M1477 335h1M1480 335h1M1483 335h1M1486 335h1M1489 335h1M1492 335h1M1495 335h1M1498 335h1M1501 335h1M1504 335h1M1507 335h1M1510 335h1M1513 335h1M1516 335h1M1519 335h1M1522 335h1M1525 335h1M1528 335h1M1531 335h1M1534 335h1M1537 335h1M1540 335h1M1543 335h1M1546 335h1M1549 335h1M1552 335h1M1555 335h1M1558 335h1M1561 335h1M1564 335h1M1567 335h1M1570 335h1M1573 335h1M1576 335h1M1579 335h1M1582 335h1M1585 335h1M1588 335h1M1591 335h1M1594 335h1M1597 335h1M1600 335h1M1603 335h1M1606 335h1M1609 335h1M1612 335h1M1615 335h1M1618 335h1M1621 335h1M1624 335h1M1627 335h1M1630 335h1M1633 335h1M1636 335h1M1639 335h1M1642 335h1M1645 335h1M1648 335h1M1651 335h1" stroke="#f23645" stroke-width="1" shape-rendering="crispEdges" transform="translate(0,0.5)"/>
<g fill="#131722" font-size="12" text-anchor="end"><text x="0" y="0" transform="translate(1702.6,30.5) scale(0.955,1)">1.37900</text><text x="0" y="0" transform="translate(1702.6,60.5) scale(0.955,1)">1.37800</text><text x="0" y="0" transform="translate(1702.6,90.5) scale(0.955,1)">1.37700</text><text x="0" y="0" transform="translate(1702.6,120.5) scale(0.955,1)">1.37600</text><text x="0" y="0" transform="translate(1702.6,151.5) scale(0.955,1)">1.37500</text><text x="0" y="0" transform="translate(1702.6,181.5) scale(0.955,1)">1.37400</text><text x="0" y="0" transform="translate(1702.6,211.5) scale(0.955,1)">1.37300</text><text x="0" y="0" transform="translate(1702.6,241.5) scale(0.955,1)">1.37200</text><text x="0" y="0" transform="translate(1702.6,271.5) scale(0.955,1)">1.37100</text><text x="0" y="0" transform="translate(1702.6,301.5) scale(0.955,1)">1.37000</text><text x="0" y="0" transform="translate(1702.6,332.5) scale(0.955,1)">1.36900</text><text x="0" y="0" transform="translate(1702.6,362.5) scale(0.955,1)">1.36800</text><text x="0" y="0" transform="translate(1702.6,392.5) scale(0.955,1)">1.36700</text><text x="0" y="0" transform="translate(1702.6,422.5) scale(0.955,1)">1.36600</text><text x="0" y="0" transform="translate(1702.6,452.5) scale(0.955,1)">1.36500</text><text x="0" y="0" transform="translate(1702.6,482.5) scale(0.955,1)">1.36400</text><text x="0" y="0" transform="translate(1702.6,513.5) scale(0.955,1)">1.36300</text><text x="0" y="0" transform="translate(1702.6,543.5) scale(0.955,1)">1.36200</text><text x="0" y="0" transform="translate(1702.6,573.5) scale(0.955,1)">1.36100</text><text x="0" y="0" transform="translate(1702.6,603.5) scale(0.955,1)">1.36000</text><text x="0" y="0" transform="translate(1702.6,633.5) scale(0.955,1)">1.35900</text><text x="0" y="0" transform="translate(1702.6,663.5) scale(0.955,1)">1.35800</text><text x="0" y="0" transform="translate(1702.6,694.5) scale(0.955,1)">1.35700</text><text x="0" y="0" transform="translate(1702.6,724.5) scale(0.955,1)">1.35600</text><text x="0" y="0" transform="translate(1702.6,754.5) scale(0.955,1)">1.35500</text></g>
<path d="M1653 327H1707a2 2 0 0 1 2 2V342a2 2 0 0 1 -2 2H1653Z" fill="#f23645"/><text x="0" y="0" transform="translate(1702.8,340) scale(0.955,1)" fill="#fff" font-size="12" font-weight="bold" text-anchor="end">1.36878</text>
<path d="M1653 438H1707a2 2 0 0 1 2 2V453a2 2 0 0 1 -2 2H1653Z" fill="#000"/><text x="0" y="0" transform="translate(1702.8,451) scale(0.955,1)" fill="#fff" font-size="12" font-weight="bold" text-anchor="end">1.36508</text>
<g fill="#131722" font-size="12" text-anchor="middle"><text x="79.5" y="790">2</text><text x="217.5" y="790">3</text><text x="354.5" y="790">4</text><text x="492.5" y="790">5</text><text x="612.5" y="790">7</text><text x="767.5" y="790">9</text><text x="904.5" y="790">10</text><text x="1042.5" y="790">11</text><text x="1179.5" y="790">12</text><text x="1300.5" y="790">14</text><text x="1454.5" y="790">16</text><text x="1592.5" y="790">17</text></g>
<g font-size="13" fill="#131722"><text x="0" y="29" transform="translate(17.87,0) scale(0.8769,1)" xml:space="preserve">USD/CAD Spot, 1h</text><text x="0" y="29" transform="translate(122.70,0) scale(0.8686,1)" xml:space="preserve">O<tspan fill="#f23645">1.36883</tspan></text><text x="0" y="29" transform="translate(179.43,0) scale(0.8722,1)" xml:space="preserve">H<tspan fill="#f23645">1.36901</tspan></text><text x="0" y="29" transform="translate(236.71,0) scale(0.8888,1)" xml:space="preserve">L<tspan fill="#f23645">1.36845</tspan></text><text x="0" y="29" transform="translate(292.60,0) scale(0.8638,1)" xml:space="preserve">C<tspan fill="#f23645">1.36878</tspan></text><text x="0" y="29" transform="translate(349.80,0) scale(0.8650,1)" xml:space="preserve"><tspan fill="#f23645">−0.00005 (−0.00%)</tspan></text><text x="0" y="46" transform="translate(17.69,0) scale(0.9062,1)" xml:space="preserve">EMA (50, close, 0)</text><text x="0" y="63" transform="translate(17.70,0) scale(0.8978,1)" xml:space="preserve">EMA (200, close, 0)</text><text x="0" y="63" transform="translate(129.60,0) scale(0.8533,1)" xml:space="preserve">1.36508</text></g>
<g fill="#131722"><path d="M10 812H18V822H14V815.5H10Z"/><circle cx="21" cy="813.8" r="1.8"/><path d="M23.5 812H30L25.8 822H21.3Z"/><text x="0" y="822" transform="translate(33.10,0) scale(0.9730,1)" xml:space="preserve" font-size="13">TradingView</text></g>
</svg>
</body></html>
